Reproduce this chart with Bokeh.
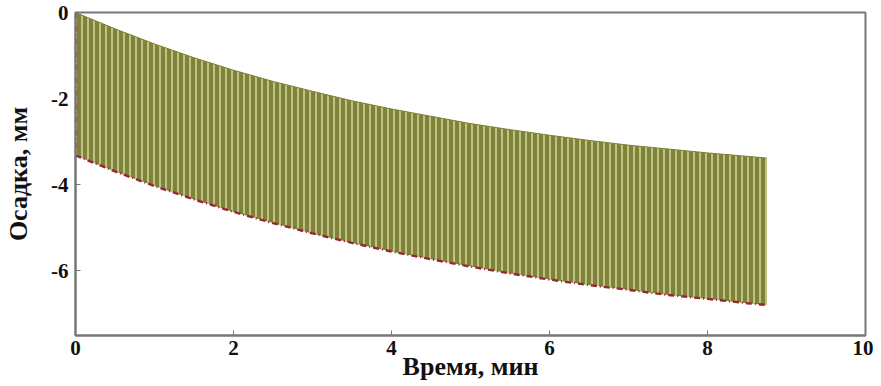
from bokeh.plotting import figure
from bokeh.models import Range1d, FixedTicker, ColumnDataSource
from bokeh.embed import file_html
from bokeh.resources import INLINE

# Data
time_min = [0, 0.5, 1, 1.5, 2, 2.5, 3, 3.5, 4, 4.5, 5, 5.5, 6, 6.5, 7, 7.5, 8, 8.5, 8.75]
upper_mm = [0, -0.38, -0.73, -1.05, -1.34, -1.60, -1.83, -2.05, -2.24, -2.41,
            -2.58, -2.72, -2.85, -2.97, -3.08, -3.17, -3.26, -3.34, -3.38]
lower_mm = [-3.32, -3.69, -4.03, -4.34, -4.63, -4.89, -5.13, -5.35, -5.55, -5.73,
            -5.90, -6.06, -6.20, -6.33, -6.44, -6.56, -6.65, -6.75, -6.79]

x_ticks = [0, 2, 4, 6, 8, 10]
y_ticks = [0, -2, -4, -6]
y_tick_labels = ["0", "-2", "-4", "-6"]

src = ColumnDataSource(dict(t=time_min, up=upper_mm, lo=lower_mm))
edge_src = ColumnDataSource(dict(t=[time_min[0]] + time_min,
                                 lo=[upper_mm[0]] + lower_mm))

p = figure(width=873, height=386, output_backend="svg", toolbar_location=None,
           x_range=Range1d(0, 10), y_range=Range1d(-7.5, 0),
           min_border_left=75, min_border_right=8, min_border_top=12,
           min_border_bottom=51)

p.varea(x="t", y1="lo", y2="up", source=src, fill_color="#7e8338",
        fill_alpha=1.0, hatch_pattern="vertical_line", hatch_color="#d0d3a0",
        hatch_scale=6, hatch_weight=1.6)
p.line(x="t", y="up", source=src, line_color="#7c8034", line_width=1)
p.line(x="t", y="lo", source=edge_src, line_color="#9b2335", line_width=2.4,
       line_dash="6 3 1 3")

p.xgrid.visible = False
p.ygrid.visible = False
p.outline_line_color = "#777777"
p.outline_line_width = 2
p.outline_line_alpha = 1

for ax in (p.xaxis[0], p.yaxis[0]):
    ax.axis_line_color = "#777777"
    ax.axis_line_width = 2
    ax.major_tick_in = 5
    ax.major_tick_out = 0
    ax.minor_tick_line_color = None
    ax.major_tick_line_color = "#777777"
    ax.major_label_text_font = "Liberation Serif"
    ax.major_label_text_font_style = "bold"
    ax.major_label_text_font_size = "21px"
    ax.major_label_text_color = "#111111"
    ax.axis_label_text_font = "Liberation Serif"
    ax.axis_label_text_font_style = "bold"
    ax.axis_label_text_font_size = "26px"
    ax.axis_label_text_color = "#111111"

p.xaxis.ticker = FixedTicker(ticks=x_ticks)
p.yaxis.ticker = FixedTicker(ticks=y_ticks)
p.yaxis.major_label_overrides = {t: s for t, s in zip(y_ticks, y_tick_labels)}
p.xaxis.axis_label = "Время, мин"
p.yaxis.axis_label = "Осадка, мм"
p.xaxis.major_label_standoff = 5
p.yaxis.major_label_standoff = 7
p.xaxis.axis_label_standoff = -6
p.yaxis.axis_label_standoff = 15

open("out.html", "w").write(file_html(p, INLINE))
